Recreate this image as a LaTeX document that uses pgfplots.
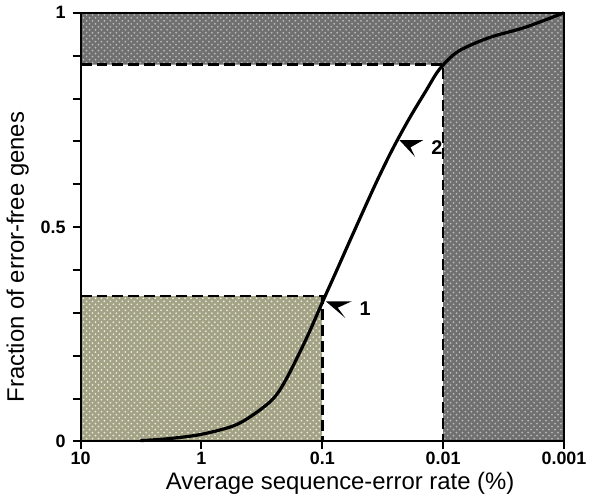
\documentclass[border=0pt]{standalone}
\usepackage{fontspec}
\setmainfont{Liberation Sans}
\usepackage{pgfplots}
\pgfplotsset{compat=1.18}
\usetikzlibrary{patterns}

\definecolor{noisegray}{RGB}{112,112,112}
\definecolor{olivetex}{RGB}{163,162,132}

\begin{document}
\begin{tikzpicture}
\begin{axis}[
    scale only axis,
    width=243pt, height=215.5pt,
    xmode=log, x dir=reverse,
    xmin=0.001, xmax=10, ymin=0, ymax=1,
    xtick={10,1,0.1,0.01,0.001},
    xticklabels={10,1,0.1,0.01,0.001},
    minor xtick={},
    ytick={0,0.5,1},
    yticklabels={0,0.5,1},
    minor ytick={0.1,0.2,0.3,0.4,0.6,0.7,0.8,0.9},
    tick align=outside,
    tick pos=left,
    major tick length=4pt, minor tick length=4pt,
    every tick/.style={black, line width=1pt},
    axis line style={line width=1pt},
    tick label style={font=\fontsize{9}{10}\selectfont\bfseries},
    xticklabel style={yshift=2pt},
    /pgf/number format/assume math mode=true,
    xlabel={Average sequence-error rate (\%)},
    ylabel={Fraction of error-free genes},
    label style={font=\fontsize{12}{14}\selectfont},
    xlabel style={at={(axis description cs:0.537,-0.098)}, anchor=center},
    ylabel style={at={(axis description cs:-0.13,0.43)}, anchor=center},
    axis on top,
    clip=false,
]
% textured regions
\addplot[draw=none, fill=olivetex] coordinates {(10,0) (0.1,0) (0.1,0.339) (10,0.339)} -- cycle;
\addplot[draw=none, pattern=crosshatch dots, pattern color=white!75!olivetex] coordinates {(10,0) (0.1,0) (0.1,0.339) (10,0.339)} -- cycle;
\addplot[draw=none, fill=noisegray] coordinates {(10,0.879) (0.01,0.879) (0.01,0) (0.001,0) (0.001,1) (10,1)} -- cycle;
\addplot[draw=none, pattern=crosshatch dots, pattern color=gray!55] coordinates {(10,0.879) (0.01,0.879) (0.01,0) (0.001,0) (0.001,1) (10,1)} -- cycle;
% dashed boundaries
\addplot[black, line width=1.3pt, dash pattern=on 5.5pt off 2.5pt] coordinates {(10,0.339) (0.1,0.339) (0.1,0)};
\addplot[black, line width=1.3pt, dash pattern=on 5.5pt off 2.5pt] coordinates {(10,0.879) (0.01,0.879) (0.01,0)};
% curve
\addplot[black, line width=1.6pt, smooth] coordinates {
(3.2,0.002) (1.953,0.006) (1.024,0.016) (0.547,0.036) (0.374,0.062)
(0.256,0.099) (0.2,0.144) (0.137,0.237) (0.0972,0.332) (0.0774,0.394)
(0.056,0.483) (0.0362,0.601) (0.0262,0.682) (0.0190,0.754) (0.0140,0.816)
(0.01074,0.868) (0.0075,0.910)
(0.00416,0.942) (0.0021,0.966) (0.001,1.0)
};
% markers 1 and 2
\fill[black] (axis cs:0.0936,0.327) -- (axis cs:0.0570,0.327) -- (axis cs:0.0745,0.312) -- (axis cs:0.0645,0.288) -- cycle;
\node[font=\fontsize{10}{11}\selectfont\bfseries, anchor=west] at (axis cs:0.056,0.31) {1};
\fill[black] (axis cs:0.0230,0.703) -- (axis cs:0.01460,0.703) -- (axis cs:0.01862,0.686) -- (axis cs:0.01710,0.664) -- cycle;
\node[font=\fontsize{10}{11}\selectfont\bfseries, anchor=west] at (axis cs:0.0143,0.685) {2};
\end{axis}
\end{tikzpicture}
\end{document}
